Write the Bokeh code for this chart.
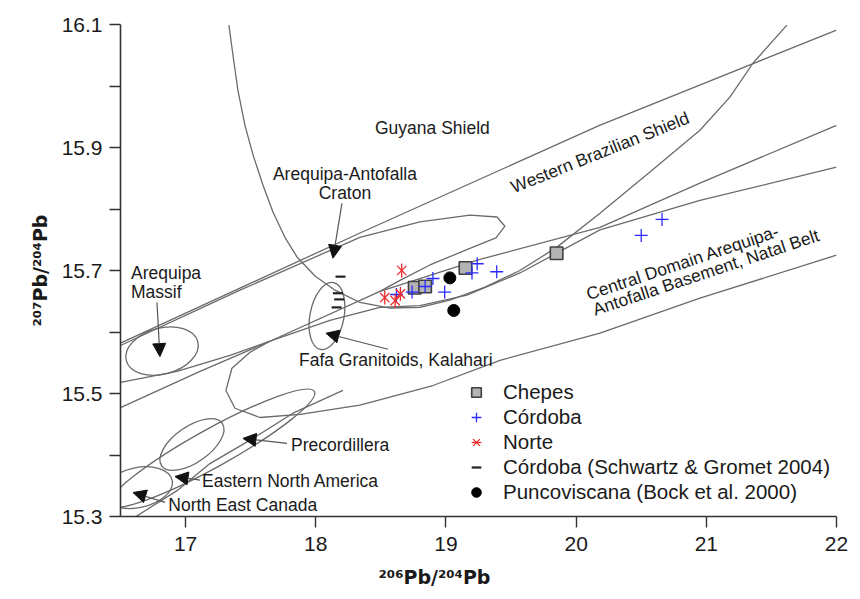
from bokeh.plotting import figure
from bokeh.models import (Range1d, FixedTicker, Arrow, NormalHead, Title,
                          ColumnDataSource, Legend, LegendItem)
from bokeh.core.properties import value
from bokeh.embed import file_html
from bokeh.resources import INLINE
import math

# ---------------- sample data (206Pb/204Pb, 207Pb/204Pb) ----------------
chepes_x = [18.76, 18.84, 19.15, 19.85]
chepes_y = [15.672, 15.674, 15.704, 15.728]

cordoba_x = [18.62, 18.74, 18.84, 18.90, 18.99, 19.20, 19.24, 19.39, 20.50, 20.66]
cordoba_y = [15.661, 15.665, 15.674, 15.687, 15.665, 15.696, 15.711, 15.698, 15.757, 15.783]

norte_x = [18.53, 18.61, 18.65, 18.66]
norte_y = [15.656, 15.651, 15.662, 15.700]

sg_x = [18.19, 18.17, 18.18, 18.16]
sg_y = [15.690, 15.663, 15.653, 15.640]

punco_x = [19.03, 19.06]
punco_y = [15.688, 15.635]

# ---------------- reference field boundaries ----------------
wbs_top_x = [16.5, 18.34, 20.18, 22.0]
wbs_top_y = [15.582, 15.761, 15.936, 16.091]

guyana_x = [17.333, 17.364, 17.402, 17.456, 17.518, 17.594, 17.671, 17.763, 17.856,
            17.994, 18.148, 18.339, 18.570, 18.800, 19.031, 19.300, 19.568, 19.853,
            20.183, 20.567, 20.951, 21.181, 21.358, 21.619]
guyana_y = [16.099, 16.050, 15.993, 15.936, 15.888, 15.839, 15.795, 15.754, 15.722,
            15.691, 15.668, 15.648, 15.639, 15.640, 15.652, 15.673, 15.700, 15.738,
            15.793, 15.860, 15.928, 15.982, 16.037, 16.099]

line_p_x = [16.5, 17.111, 17.648, 18.493, 19.261, 20.183, 20.951, 22.0]
line_p_y = [15.477, 15.536, 15.585, 15.666, 15.718, 15.770, 15.842, 15.936]

line_q_x = [16.5, 16.934, 17.341, 17.648, 18.109, 18.493, 18.800, 19.161, 19.568,
            20.183, 20.951, 22.0]
line_q_y = [15.518, 15.536, 15.562, 15.585, 15.619, 15.640, 15.643, 15.660, 15.696,
            15.766, 15.814, 15.868]

aac_x = [16.5, 17.418, 18.339, 18.800, 19.184, 19.392, 19.453, 19.384, 19.184,
         18.877, 18.647, 18.493]
aac_y = [15.578, 15.668, 15.754, 15.779, 15.790, 15.787, 15.772, 15.753, 15.736,
         15.709, 15.684, 15.666]

cd_x = [22.0, 20.951, 20.183, 19.415, 18.900, 18.339, 17.879, 17.571, 17.379,
        17.310, 17.356, 17.495, 17.648]
cd_y = [15.725, 15.655, 15.598, 15.554, 15.513, 15.481, 15.466, 15.461, 15.476,
        15.505, 15.541, 15.567, 15.585]

line_c_x = [16.619, 16.934, 17.187, 17.518, 17.825, 18.209]
line_c_y = [15.300, 15.342, 15.386, 15.427, 15.468, 15.505]

# elliptic fields: Arequipa Massif, Fafa, E. North America, NE Canada, Precordillera
ell_x = [16.819, 18.086, 17.049, 16.634, 17.203]
ell_y = [15.569, 15.626, 15.417, 15.347, 15.411]
ell_w = [74, 68, 74, 70, 234]
ell_h = [46, 34, 36, 40, 38]
ell_deg = [15, 79, 35, 12, 29]

# label arrows (tail -> head)
arr_x0 = [18.201, 16.780, 18.555, 17.779, 17.111, 16.842]
arr_y0 = [15.809, 15.648, 15.572, 15.419, 15.359, 15.323]
arr_x1 = [18.132, 16.803, 18.078, 17.441, 16.919, 16.596]
arr_y1 = [15.720, 15.560, 15.598, 15.427, 15.365, 15.339]

# field names
left_labels = ["Guyana Shield", "Arequipa", "Massif", "Fafa Granitoids, Kalahari",
               "Precordillera", "Eastern North America", "North East Canada"]
left_lx = [18.455, 16.581, 16.581, 17.871, 17.810, 17.126, 16.867]
left_ly = [15.932, 15.696, 15.665, 15.554, 15.417, 15.357, 15.318]

center_labels = ["Arequipa-Antofalla", "Craton", "Western Brazilian Shield",
                 "Central Domain Arequipa-", "Antofalla Basement, Natal Belt"]
center_lx = [18.224, 18.224, 20.183, 20.820, 20.997]
center_ly = [15.857, 15.826, 15.892, 15.713, 15.697]
center_deg = [0, 0, 21.8, 18.5, 18.5]

x_ticks = [17, 18, 19, 20, 21, 22]
y_major = [15.3, 15.5, 15.7, 15.9, 16.1]
y_minor = [15.4, 15.6, 15.8, 16.0]

x_title = "²⁰⁶Pb/²⁰⁴Pb"
y_title = "²⁰⁷Pb/²⁰⁴Pb"

# ---------------- figure ----------------
FONT = "Liberation Sans"
TFONT = "DejaVu Sans"
LINE = "#6a6a6a"
TXT = "#1a1a1a"

p = figure(width=860, height=599, x_range=Range1d(16.5, 22), y_range=Range1d(15.3, 16.1),
           output_backend="svg", toolbar_location=None,
           min_border_left=120, min_border_right=24, min_border_top=24, min_border_bottom=83)
p.outline_line_color = None
p.xgrid.visible = False
p.ygrid.visible = False

for ax in (p.xaxis[0], p.yaxis[0]):
    ax.axis_line_color = "#333333"
    ax.axis_line_width = 1.6
    ax.major_tick_line_color = "#333333"
    ax.major_tick_line_width = 1.4
    ax.minor_tick_line_color = "#333333"
    ax.minor_tick_line_width = 1.4
    ax.major_tick_in = 0
    ax.major_tick_out = 11
    ax.minor_tick_in = 0
    ax.minor_tick_out = 11
    ax.major_label_text_font = FONT
    ax.major_label_text_font_size = "21px"
    ax.major_label_text_color = TXT

p.xaxis.ticker = FixedTicker(ticks=x_ticks)
p.yaxis.ticker = FixedTicker(ticks=y_major, minor_ticks=y_minor)
p.xaxis.major_label_standoff = 9
p.yaxis.major_label_standoff = 7

# field boundaries
for xs, ys in [(wbs_top_x, wbs_top_y), (guyana_x, guyana_y), (line_p_x, line_p_y),
               (line_q_x, line_q_y), (aac_x, aac_y), (cd_x, cd_y), (line_c_x, line_c_y)]:
    p.line(xs, ys, line_color=LINE, line_width=1.3)

p.ellipse(x=ell_x, y=ell_y, width=ell_w, height=ell_h,
          angle=[math.radians(a) for a in ell_deg],
          width_units="screen", height_units="screen",
          fill_color=None, line_color=LINE, line_width=1.3)

# arrows
arr_src = ColumnDataSource(dict(x0=arr_x0, y0=arr_y0, x1=arr_x1, y1=arr_y1))
p.add_layout(Arrow(end=NormalHead(size=13, fill_color="#111111", line_color="#111111", line_width=1),
                   source=arr_src, x_start="x0", y_start="y0", x_end="x1", y_end="y1",
                   line_color="#555555", line_width=1.2))

# field labels
p.text(x=left_lx, y=left_ly, text=left_labels, text_font=value(FONT),
       text_font_size=value("17.5px"), text_color=TXT, text_align="left",
       text_baseline="middle")
p.text(x=center_lx, y=center_ly, text=center_labels,
       angle=[math.radians(a) for a in center_deg], text_font=value(FONT),
       text_font_size=value("17.5px"), text_color=TXT, text_align="center",
       text_baseline="middle")

# data
r_ch = p.scatter(chepes_x, chepes_y, marker="square", size=12.5, fill_color="#b3b3b3",
                 line_color="#404040", line_width=1.6)
r_co = p.scatter(cordoba_x, cordoba_y, marker="cross", size=13, line_color="#2b2bff",
                 line_width=1.3)
r_no1 = p.scatter(norte_x, norte_y, marker="x", size=13, line_color="#ee2b2b",
                  line_width=1.3)
r_no2 = p.scatter(norte_x, norte_y, marker="dash", angle=math.pi / 2, size=14,
                  line_color="#ee2b2b", line_width=1.3)
r_sg = p.scatter(sg_x, sg_y, marker="dash", size=10, line_color="#222222", line_width=2.2)
r_pu = p.scatter(punco_x, punco_y, marker="circle", size=12, fill_color="#000000",
                 line_color="#000000")

legend = Legend(items=[
    LegendItem(label="Chepes", renderers=[r_ch]),
    LegendItem(label="Córdoba", renderers=[r_co]),
    LegendItem(label="Norte", renderers=[r_no1, r_no2]),
    LegendItem(label="Córdoba (Schwartz & Gromet 2004)", renderers=[r_sg]),
    LegendItem(label="Puncoviscana (Bock et al. 2000)", renderers=[r_pu]),
], location=(344, 12), padding=0, margin=0, spacing=1,
    glyph_width=24, glyph_height=24, label_height=22, label_standoff=15,
    label_text_font=FONT, label_text_font_size="20.5px", label_text_color=TXT,
    background_fill_alpha=0, border_line_color=None)
p.add_layout(legend)

# axis titles
p.add_layout(Title(text=x_title, align="left", offset=258, text_font=TFONT,
                   text_font_size="19px", text_font_style="bold", text_color=TXT,
                   standoff=21), "below")
p.add_layout(Title(text=y_title, align="center", offset=-4, text_font=TFONT,
                   text_font_size="19px", text_font_style="bold", text_color=TXT,
                   standoff=16), "left")

open("out.html", "w").write(file_html(p, INLINE))
